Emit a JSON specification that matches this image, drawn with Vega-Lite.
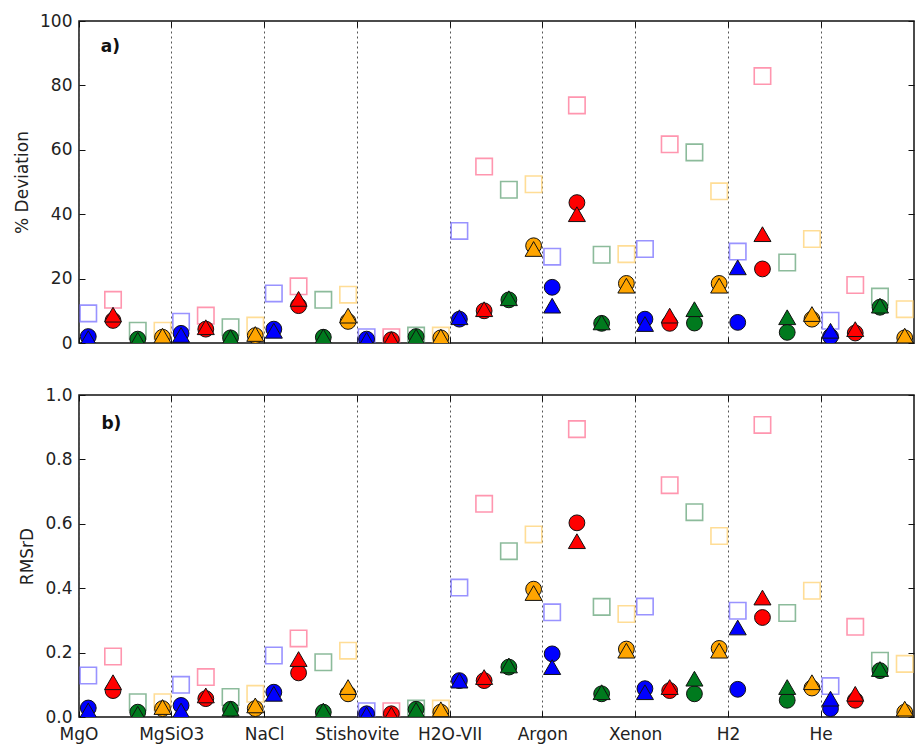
{
  "$schema": "https://vega.github.io/schema/vega-lite/v6.json",
  "padding": {"left": 12, "top": 11, "right": 3, "bottom": 3},
  "background": "white",
  "config": {
    "font": "DejaVu Sans",
    "view": {"stroke": "#111", "strokeWidth": 1.5},
    "axis": {
      "domain": false,
      "labelFont": "DejaVu Sans",
      "titleFont": "DejaVu Sans",
      "labelFontSize": 17,
      "titleFontSize": 17,
      "titleFontWeight": "normal",
      "labelColor": "#222",
      "titleColor": "#222",
      "tickColor": "#111",
      "tickSize": -6,
      "tickWidth": 1
    },
    "text": {"font": "DejaVu Sans"}
  },
  "data": {
    "values": [
      {"material": "MgO", "series": 1, "variant": "A", "dev": 9.2, "rmsrd": 0.129},
      {"material": "MgO", "series": 1, "variant": "B", "dev": 2.0, "rmsrd": 0.028},
      {"material": "MgO", "series": 1, "variant": "C", "dev": 1.5, "rmsrd": 0.020},
      {"material": "MgO", "series": 2, "variant": "A", "dev": 13.4, "rmsrd": 0.188},
      {"material": "MgO", "series": 2, "variant": "B", "dev": 7.0, "rmsrd": 0.082},
      {"material": "MgO", "series": 2, "variant": "C", "dev": 8.8, "rmsrd": 0.108},
      {"material": "MgO", "series": 3, "variant": "A", "dev": 3.8, "rmsrd": 0.046},
      {"material": "MgO", "series": 3, "variant": "B", "dev": 1.2, "rmsrd": 0.015},
      {"material": "MgO", "series": 3, "variant": "C", "dev": 1.0, "rmsrd": 0.010},
      {"material": "MgO", "series": 4, "variant": "A", "dev": 3.8, "rmsrd": 0.046},
      {"material": "MgO", "series": 4, "variant": "B", "dev": 1.8, "rmsrd": 0.026},
      {"material": "MgO", "series": 4, "variant": "C", "dev": 2.3, "rmsrd": 0.031},

      {"material": "MgSiO3", "series": 1, "variant": "A", "dev": 6.6, "rmsrd": 0.100},
      {"material": "MgSiO3", "series": 1, "variant": "B", "dev": 3.0, "rmsrd": 0.036},
      {"material": "MgSiO3", "series": 1, "variant": "C", "dev": 2.5, "rmsrd": 0.020},
      {"material": "MgSiO3", "series": 2, "variant": "A", "dev": 8.5, "rmsrd": 0.124},
      {"material": "MgSiO3", "series": 2, "variant": "B", "dev": 4.3, "rmsrd": 0.057},
      {"material": "MgSiO3", "series": 2, "variant": "C", "dev": 4.9, "rmsrd": 0.067},
      {"material": "MgSiO3", "series": 3, "variant": "A", "dev": 4.9, "rmsrd": 0.062},
      {"material": "MgSiO3", "series": 3, "variant": "B", "dev": 1.6, "rmsrd": 0.024},
      {"material": "MgSiO3", "series": 3, "variant": "C", "dev": 1.8, "rmsrd": 0.026},
      {"material": "MgSiO3", "series": 4, "variant": "A", "dev": 5.4, "rmsrd": 0.072},
      {"material": "MgSiO3", "series": 4, "variant": "B", "dev": 2.3, "rmsrd": 0.026},
      {"material": "MgSiO3", "series": 4, "variant": "C", "dev": 2.8, "rmsrd": 0.036},

      {"material": "NaCl", "series": 1, "variant": "A", "dev": 15.4, "rmsrd": 0.191},
      {"material": "NaCl", "series": 1, "variant": "B", "dev": 4.3, "rmsrd": 0.077},
      {"material": "NaCl", "series": 1, "variant": "C", "dev": 3.8, "rmsrd": 0.072},
      {"material": "NaCl", "series": 2, "variant": "A", "dev": 17.6, "rmsrd": 0.244},
      {"material": "NaCl", "series": 2, "variant": "B", "dev": 11.6, "rmsrd": 0.137},
      {"material": "NaCl", "series": 2, "variant": "C", "dev": 13.7, "rmsrd": 0.180},
      {"material": "NaCl", "series": 3, "variant": "A", "dev": 13.4, "rmsrd": 0.170},
      {"material": "NaCl", "series": 3, "variant": "B", "dev": 1.8, "rmsrd": 0.015},
      {"material": "NaCl", "series": 3, "variant": "C", "dev": 2.0, "rmsrd": 0.020},
      {"material": "NaCl", "series": 4, "variant": "A", "dev": 15.0, "rmsrd": 0.206},
      {"material": "NaCl", "series": 4, "variant": "B", "dev": 6.7, "rmsrd": 0.072},
      {"material": "NaCl", "series": 4, "variant": "C", "dev": 8.5, "rmsrd": 0.093},

      {"material": "Stishovite", "series": 1, "variant": "A", "dev": 1.8, "rmsrd": 0.018},
      {"material": "Stishovite", "series": 1, "variant": "B", "dev": 1.2, "rmsrd": 0.010},
      {"material": "Stishovite", "series": 1, "variant": "C", "dev": 1.0, "rmsrd": 0.008},
      {"material": "Stishovite", "series": 2, "variant": "A", "dev": 1.8, "rmsrd": 0.018},
      {"material": "Stishovite", "series": 2, "variant": "B", "dev": 1.0, "rmsrd": 0.010},
      {"material": "Stishovite", "series": 2, "variant": "C", "dev": 1.2, "rmsrd": 0.008},
      {"material": "Stishovite", "series": 3, "variant": "A", "dev": 2.3, "rmsrd": 0.026},
      {"material": "Stishovite", "series": 3, "variant": "B", "dev": 2.0, "rmsrd": 0.024},
      {"material": "Stishovite", "series": 3, "variant": "C", "dev": 2.0, "rmsrd": 0.022},
      {"material": "Stishovite", "series": 4, "variant": "A", "dev": 2.3, "rmsrd": 0.026},
      {"material": "Stishovite", "series": 4, "variant": "B", "dev": 1.6, "rmsrd": 0.015},
      {"material": "Stishovite", "series": 4, "variant": "C", "dev": 2.0, "rmsrd": 0.024},

      {"material": "H2O-VII", "series": 1, "variant": "A", "dev": 34.8, "rmsrd": 0.402},
      {"material": "H2O-VII", "series": 1, "variant": "B", "dev": 7.4, "rmsrd": 0.113},
      {"material": "H2O-VII", "series": 1, "variant": "C", "dev": 8.0, "rmsrd": 0.113},
      {"material": "H2O-VII", "series": 2, "variant": "A", "dev": 54.8, "rmsrd": 0.662},
      {"material": "H2O-VII", "series": 2, "variant": "B", "dev": 10.0, "rmsrd": 0.113},
      {"material": "H2O-VII", "series": 2, "variant": "C", "dev": 10.5, "rmsrd": 0.124},
      {"material": "H2O-VII", "series": 3, "variant": "A", "dev": 47.6, "rmsrd": 0.515},
      {"material": "H2O-VII", "series": 3, "variant": "B", "dev": 13.4, "rmsrd": 0.155},
      {"material": "H2O-VII", "series": 3, "variant": "C", "dev": 13.9, "rmsrd": 0.160},
      {"material": "H2O-VII", "series": 4, "variant": "A", "dev": 49.3, "rmsrd": 0.567},
      {"material": "H2O-VII", "series": 4, "variant": "B", "dev": 30.2, "rmsrd": 0.397},
      {"material": "H2O-VII", "series": 4, "variant": "C", "dev": 29.2, "rmsrd": 0.385},

      {"material": "Argon", "series": 1, "variant": "A", "dev": 26.8, "rmsrd": 0.325},
      {"material": "Argon", "series": 1, "variant": "B", "dev": 17.3, "rmsrd": 0.196},
      {"material": "Argon", "series": 1, "variant": "C", "dev": 11.6, "rmsrd": 0.155},
      {"material": "Argon", "series": 2, "variant": "A", "dev": 73.8, "rmsrd": 0.894},
      {"material": "Argon", "series": 2, "variant": "B", "dev": 43.6, "rmsrd": 0.603},
      {"material": "Argon", "series": 2, "variant": "C", "dev": 40.0, "rmsrd": 0.546},
      {"material": "Argon", "series": 3, "variant": "A", "dev": 27.4, "rmsrd": 0.342},
      {"material": "Argon", "series": 3, "variant": "B", "dev": 6.1, "rmsrd": 0.072},
      {"material": "Argon", "series": 3, "variant": "C", "dev": 6.4, "rmsrd": 0.077},
      {"material": "Argon", "series": 4, "variant": "A", "dev": 27.6, "rmsrd": 0.320},
      {"material": "Argon", "series": 4, "variant": "B", "dev": 18.5, "rmsrd": 0.211},
      {"material": "Argon", "series": 4, "variant": "C", "dev": 17.8, "rmsrd": 0.206},

      {"material": "Xenon", "series": 1, "variant": "A", "dev": 29.2, "rmsrd": 0.343},
      {"material": "Xenon", "series": 1, "variant": "B", "dev": 7.4, "rmsrd": 0.088},
      {"material": "Xenon", "series": 1, "variant": "C", "dev": 5.9, "rmsrd": 0.077},
      {"material": "Xenon", "series": 2, "variant": "A", "dev": 61.7, "rmsrd": 0.720},
      {"material": "Xenon", "series": 2, "variant": "B", "dev": 6.1, "rmsrd": 0.082},
      {"material": "Xenon", "series": 2, "variant": "C", "dev": 8.5, "rmsrd": 0.093},
      {"material": "Xenon", "series": 3, "variant": "A", "dev": 59.2, "rmsrd": 0.636},
      {"material": "Xenon", "series": 3, "variant": "B", "dev": 6.2, "rmsrd": 0.072},
      {"material": "Xenon", "series": 3, "variant": "C", "dev": 10.5, "rmsrd": 0.119},
      {"material": "Xenon", "series": 4, "variant": "A", "dev": 47.1, "rmsrd": 0.562},
      {"material": "Xenon", "series": 4, "variant": "B", "dev": 18.5, "rmsrd": 0.213},
      {"material": "Xenon", "series": 4, "variant": "C", "dev": 17.8, "rmsrd": 0.206},

      {"material": "H2", "series": 1, "variant": "A", "dev": 28.4, "rmsrd": 0.330},
      {"material": "H2", "series": 1, "variant": "B", "dev": 6.4, "rmsrd": 0.086},
      {"material": "H2", "series": 1, "variant": "C", "dev": 23.5, "rmsrd": 0.278},
      {"material": "H2", "series": 2, "variant": "A", "dev": 82.9, "rmsrd": 0.907},
      {"material": "H2", "series": 2, "variant": "B", "dev": 23.0, "rmsrd": 0.309},
      {"material": "H2", "series": 2, "variant": "C", "dev": 33.8, "rmsrd": 0.371},
      {"material": "H2", "series": 3, "variant": "A", "dev": 25.0, "rmsrd": 0.323},
      {"material": "H2", "series": 3, "variant": "B", "dev": 3.3, "rmsrd": 0.052},
      {"material": "H2", "series": 3, "variant": "C", "dev": 8.0, "rmsrd": 0.093},
      {"material": "H2", "series": 4, "variant": "A", "dev": 32.3, "rmsrd": 0.392},
      {"material": "H2", "series": 4, "variant": "B", "dev": 7.4, "rmsrd": 0.090},
      {"material": "H2", "series": 4, "variant": "C", "dev": 9.0, "rmsrd": 0.108},

      {"material": "He", "series": 1, "variant": "A", "dev": 6.9, "rmsrd": 0.096},
      {"material": "He", "series": 1, "variant": "B", "dev": 2.0, "rmsrd": 0.026},
      {"material": "He", "series": 1, "variant": "C", "dev": 3.8, "rmsrd": 0.057},
      {"material": "He", "series": 2, "variant": "A", "dev": 18.0, "rmsrd": 0.280},
      {"material": "He", "series": 2, "variant": "B", "dev": 3.1, "rmsrd": 0.052},
      {"material": "He", "series": 2, "variant": "C", "dev": 4.3, "rmsrd": 0.072},
      {"material": "He", "series": 3, "variant": "A", "dev": 14.4, "rmsrd": 0.175},
      {"material": "He", "series": 3, "variant": "B", "dev": 11.1, "rmsrd": 0.144},
      {"material": "He", "series": 3, "variant": "C", "dev": 11.6, "rmsrd": 0.149},
      {"material": "He", "series": 4, "variant": "A", "dev": 10.5, "rmsrd": 0.165},
      {"material": "He", "series": 4, "variant": "B", "dev": 1.6, "rmsrd": 0.015},
      {"material": "He", "series": 4, "variant": "C", "dev": 2.3, "rmsrd": 0.026}
    ]
  },
  "spacing": 33,
  "vconcat": [
    {
      "width": 835,
      "height": 322,
      "resolve": {"axis": {"x": "independent", "y": "independent"}},
      "layer": [
        {
          "transform": [{"filter": "datum.variant === 'A'"}],
          "mark": {"type": "point", "shape": "square", "filled": false, "size": 270, "strokeWidth": 1.6, "clip": true},
          "encoding": {
            "x": {"field": "material", "type": "nominal", "bandPosition": 0,
                  "sort": ["MgO", "MgSiO3", "NaCl", "Stishovite", "H2O-VII", "Argon", "Xenon", "H2", "He"],
                  "scale": {"type": "band", "paddingInner": 0, "paddingOuter": 0},
                  "axis": {"orient": "bottom", "title": null, "labels": false, "bandPosition": 0,
                           "grid": true, "gridDash": [2, 3], "gridColor": "#555", "gridWidth": 1}},
            "xOffset": {"field": "series", "type": "nominal", "scale": {"type": "point", "padding": 0.375}},
            "y": {"field": "dev", "type": "quantitative",
                  "scale": {"domain": [0, 100], "nice": false, "zero": true},
                  "axis": {"title": "% Deviation", "values": [0, 20, 40, 60, 80, 100], "grid": false,
                           "labelPadding": 13, "titlePadding": 8}},
            "stroke": {"field": "series", "type": "nominal",
                       "scale": {"domain": [1, 2, 3, 4], "range": ["#6f66ff", "#ff6a8e", "#5c9f72", "#ffd06a"]},
                       "legend": null}
          }
        },
        {
          "transform": [{"filter": "datum.variant === 'B'"}],
          "mark": {"type": "point", "shape": "circle", "filled": true, "size": 250, "stroke": "#111", "strokeWidth": 1, "opacity": 1, "clip": true},
          "encoding": {
            "x": {"field": "material", "type": "nominal", "bandPosition": 0,
                  "sort": ["MgO", "MgSiO3", "NaCl", "Stishovite", "H2O-VII", "Argon", "Xenon", "H2", "He"],
                  "axis": {"orient": "top", "title": null, "labels": false, "bandPosition": 0, "grid": false}},
            "xOffset": {"field": "series", "type": "nominal"},
            "y": {"field": "dev", "type": "quantitative",
                  "axis": {"orient": "right", "title": null, "labels": false, "values": [0, 20, 40, 60, 80, 100], "grid": false}},
            "fill": {"field": "series", "type": "nominal",
                     "scale": {"domain": [1, 2, 3, 4], "range": ["#0000ff", "#ff0000", "#007a1e", "#ffa500"]},
                     "legend": null}
          }
        },
        {
          "transform": [{"filter": "datum.variant === 'C'"}],
          "mark": {"type": "point", "shape": "triangle-up", "filled": true, "size": 290, "stroke": "#111", "strokeWidth": 1, "opacity": 1, "clip": true},
          "encoding": {
            "x": {"field": "material", "type": "nominal", "bandPosition": 0,
                  "sort": ["MgO", "MgSiO3", "NaCl", "Stishovite", "H2O-VII", "Argon", "Xenon", "H2", "He"],
                  "axis": null},
            "xOffset": {"field": "series", "type": "nominal"},
            "y": {"field": "dev", "type": "quantitative", "axis": null},
            "fill": {"field": "series", "type": "nominal", "legend": null}
          }
        },
        {
          "data": {"values": [{"panel": "a)"}]},
          "mark": {"type": "text", "fontSize": 17, "fontWeight": "bold", "color": "#111", "align": "center", "baseline": "middle", "dx": -15},
          "encoding": {
            "x": {"datum": "MgO", "type": "nominal", "axis": null},
            "y": {"datum": 92, "type": "quantitative", "axis": null},
            "text": {"field": "panel"}
          }
        }
      ]
    },
    {
      "width": 835,
      "height": 322,
      "resolve": {"axis": {"x": "independent", "y": "independent"}},
      "layer": [
        {
          "transform": [{"filter": "datum.variant === 'A'"}],
          "mark": {"type": "point", "shape": "square", "filled": false, "size": 270, "strokeWidth": 1.6, "clip": true},
          "encoding": {
            "x": {"field": "material", "type": "nominal", "bandPosition": 0,
                  "sort": ["MgO", "MgSiO3", "NaCl", "Stishovite", "H2O-VII", "Argon", "Xenon", "H2", "He"],
                  "scale": {"type": "band", "paddingInner": 0, "paddingOuter": 0},
                  "axis": {"orient": "bottom", "title": null, "labelAngle": 0, "bandPosition": 0, "labelPadding": 15,
                           "labelOffset": -46.4,
                           "grid": true, "gridDash": [2, 3], "gridColor": "#555", "gridWidth": 1}},
            "xOffset": {"field": "series", "type": "nominal", "scale": {"type": "point", "padding": 0.375}},
            "y": {"field": "rmsrd", "type": "quantitative",
                  "scale": {"domain": [0, 1], "nice": false, "zero": true},
                  "axis": {"title": "RMSrD", "values": [0, 0.2, 0.4, 0.6, 0.8, 1.0], "format": ".1f", "grid": false,
                           "labelPadding": 13, "titlePadding": 8}},
            "stroke": {"field": "series", "type": "nominal",
                       "scale": {"domain": [1, 2, 3, 4], "range": ["#6f66ff", "#ff6a8e", "#5c9f72", "#ffd06a"]},
                       "legend": null}
          }
        },
        {
          "transform": [{"filter": "datum.variant === 'B'"}],
          "mark": {"type": "point", "shape": "circle", "filled": true, "size": 250, "stroke": "#111", "strokeWidth": 1, "opacity": 1, "clip": true},
          "encoding": {
            "x": {"field": "material", "type": "nominal", "bandPosition": 0,
                  "sort": ["MgO", "MgSiO3", "NaCl", "Stishovite", "H2O-VII", "Argon", "Xenon", "H2", "He"],
                  "axis": {"orient": "top", "title": null, "labels": false, "bandPosition": 0, "grid": false}},
            "xOffset": {"field": "series", "type": "nominal"},
            "y": {"field": "rmsrd", "type": "quantitative",
                  "axis": {"orient": "right", "title": null, "labels": false, "values": [0, 0.2, 0.4, 0.6, 0.8, 1.0], "grid": false}},
            "fill": {"field": "series", "type": "nominal",
                     "scale": {"domain": [1, 2, 3, 4], "range": ["#0000ff", "#ff0000", "#007a1e", "#ffa500"]},
                     "legend": null}
          }
        },
        {
          "transform": [{"filter": "datum.variant === 'C'"}],
          "mark": {"type": "point", "shape": "triangle-up", "filled": true, "size": 290, "stroke": "#111", "strokeWidth": 1, "opacity": 1, "clip": true},
          "encoding": {
            "x": {"field": "material", "type": "nominal", "bandPosition": 0,
                  "sort": ["MgO", "MgSiO3", "NaCl", "Stishovite", "H2O-VII", "Argon", "Xenon", "H2", "He"],
                  "axis": null},
            "xOffset": {"field": "series", "type": "nominal"},
            "y": {"field": "rmsrd", "type": "quantitative", "axis": null},
            "fill": {"field": "series", "type": "nominal", "legend": null}
          }
        },
        {
          "data": {"values": [{"panel": "b)"}]},
          "mark": {"type": "text", "fontSize": 17, "fontWeight": "bold", "color": "#111", "align": "center", "baseline": "middle", "dx": -14},
          "encoding": {
            "x": {"datum": "MgO", "type": "nominal", "axis": null},
            "y": {"datum": 0.91, "type": "quantitative", "axis": null},
            "text": {"field": "panel"}
          }
        }
      ]
    }
  ]
}
